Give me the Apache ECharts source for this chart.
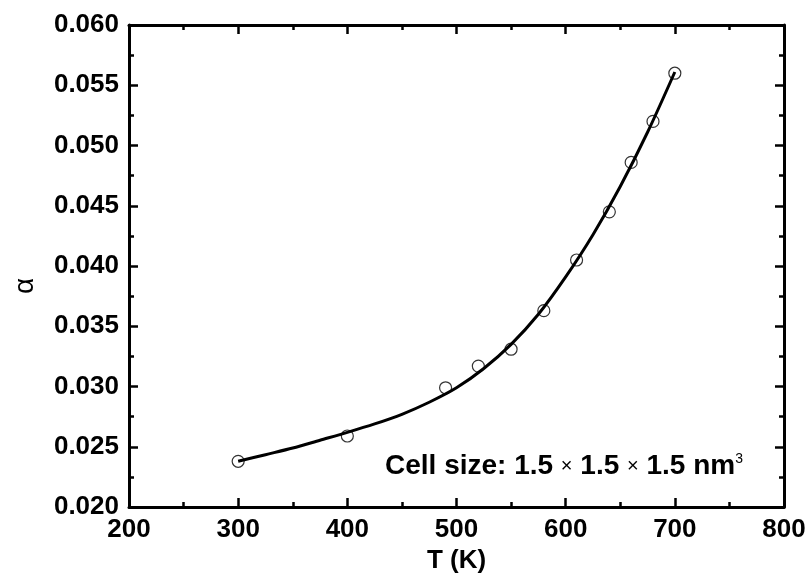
<!DOCTYPE html>
<html>
<head>
<meta charset="utf-8">
<script src="https://cdn.jsdelivr.net/npm/echarts@6/dist/echarts.min.js"></script>
<style>
  html, body { margin: 0; padding: 0; background: #fff; }
  #chart { width: 811px; height: 579px; }
</style>
</head>
<body>
<div id="chart"></div>
<script>
// Measured points: temperature (K) and alpha
const tempK = [300, 400, 490, 520, 550, 580, 610, 640, 660, 680, 700];
const alphaVals = [0.0238, 0.0259, 0.0299, 0.0317, 0.0331, 0.0363, 0.0405, 0.0445, 0.0486, 0.0520, 0.0560];

// Fitted curve, read along its length
const fitT = [300, 325, 350, 375, 400, 425, 450, 475, 500, 525, 550, 575, 600, 625, 650, 675, 700];
const fitAlpha = [0.0238, 0.02435, 0.0249, 0.02555, 0.0262, 0.0269, 0.0277, 0.0287, 0.0299,
                  0.0315, 0.0335, 0.0360, 0.0391, 0.0426, 0.0466, 0.0511, 0.0561];

const xTicks = [200, 300, 400, 500, 600, 700, 800];
const yTicks = ['0.020', '0.025', '0.030', '0.035', '0.040', '0.045', '0.050', '0.055', '0.060'];

const FONT = '"Liberation Sans", Arial, sans-serif';
const chart = echarts.init(document.getElementById('chart'));

function axisLine() { return { lineStyle: { color: '#000', width: 3 } }; }
function axisTick() { return { inside: true, length: 9, lineStyle: { color: '#000', width: 2.5 } }; }
function minorTick() { return { show: true, splitNumber: 2, length: 5, lineStyle: { color: '#000', width: 2.5 } }; }

const xMin = xTicks[0], xMax = xTicks[xTicks.length - 1];
const yMin = parseFloat(yTicks[0]), yMax = parseFloat(yTicks[yTicks.length - 1]);

chart.setOption({
  animation: false,
  backgroundColor: '#fff',
  grid: { left: 129, right: 27, top: 25, bottom: 71, containLabel: false },
  xAxis: [
    {
      type: 'value', min: xMin, max: xMax, interval: 100, position: 'bottom',
      axisLine: axisLine(), axisTick: axisTick(), minorTick: minorTick(),
      splitLine: { show: false },
      axisLabel: { color: '#000', fontFamily: FONT, fontWeight: 'bold', fontSize: 26, margin: 10 },
      name: 'T (K)', nameLocation: 'middle', nameGap: 36,
      nameTextStyle: { color: '#000', fontFamily: FONT, fontWeight: 'bold', fontSize: 26 }
    },
    {
      type: 'value', min: xMin, max: xMax, interval: 100, position: 'top',
      axisLine: axisLine(), axisTick: axisTick(), minorTick: minorTick(),
      splitLine: { show: false }, axisLabel: { show: false }
    }
  ],
  yAxis: [
    {
      type: 'value', min: yMin, max: yMax, interval: 0.005, position: 'left',
      axisLine: axisLine(), axisTick: axisTick(), minorTick: minorTick(),
      splitLine: { show: false },
      axisLabel: {
        color: '#000', fontFamily: FONT, fontWeight: 'bold', fontSize: 26, margin: 10,
        formatter: v => v.toFixed(3)
      }
    },
    {
      type: 'value', min: yMin, max: yMax, interval: 0.005, position: 'right',
      axisLine: axisLine(), axisTick: axisTick(), minorTick: minorTick(),
      splitLine: { show: false }, axisLabel: { show: false }
    }
  ],
  graphic: [
    {
      type: 'text', x: 25, y: 286, rotation: Math.PI / 2,
      style: {
        text: 'α', fill: '#000', font: '28px ' + FONT,
        align: 'center', verticalAlign: 'middle'
      }
    },
    {
      type: 'text', x: 385, y: 466,
      style: {
        text: '{b|Cell size: 1.5 }{x|×}{b| 1.5 }{x|×}{b| 1.5 nm}{s|3}',
        verticalAlign: 'middle',
        rich: {
          b: { fontFamily: FONT, fontWeight: 'bold', fontSize: 28, fill: '#000' },
          x: { fontFamily: FONT, fontSize: 20, fill: '#000' },
          s: { fontFamily: FONT, fontSize: 14, fill: '#000', verticalAlign: 'top', padding: [0, 0, 12, 0] }
        }
      }
    }
  ],
  series: [
    {
      type: 'line', name: 'fit',
      data: fitT.map((t, i) => [t, fitAlpha[i]]),
      smooth: 0.3, showSymbol: false, symbol: 'none',
      lineStyle: { color: '#000', width: 3 }, z: 2
    },
    {
      type: 'scatter', name: 'alpha',
      data: tempK.map((t, i) => [t, alphaVals[i]]),
      symbol: 'circle', symbolSize: 12,
      itemStyle: { color: 'rgba(0,0,0,0)', borderColor: '#000', borderWidth: 1.2 },
      z: 3
    }
  ]
});
</script>
</body>
</html>
